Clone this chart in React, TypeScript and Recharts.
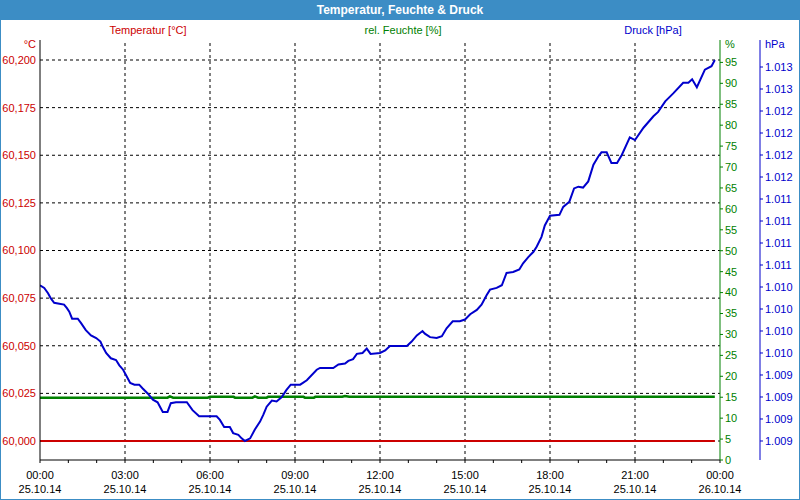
import { LineChart, Line, XAxis, YAxis, ReferenceLine } from "recharts";

// minutes since 25.10.14 00:00
const pressureMinutes = [
  0, 9, 17, 23, 30, 41, 51, 57, 62, 68,
  80, 87, 97, 108, 119, 128, 133, 140, 150, 161,
  168, 176, 182, 191, 200, 210, 217, 228, 239, 249,
  260, 270, 277, 288, 311, 323, 337, 374, 381, 390,
  402, 409, 420, 427, 434, 445, 455, 466, 473, 480,
  491, 501, 512, 522, 531, 551, 565, 586, 593, 621,
  632, 646, 653, 663, 671, 683, 692, 700, 720, 731,
  741, 777, 787, 798, 810, 815, 826, 840, 851, 861,
  874, 889, 900, 911, 925, 935, 946, 953, 967, 978,
  988, 1002, 1015, 1023, 1034, 1045, 1052, 1062, 1069, 1080,
  1100, 1108, 1121, 1131, 1140, 1150, 1161, 1172, 1182, 1189,
  1200, 1210, 1222, 1232, 1249, 1260, 1278, 1299, 1309, 1324,
  1341, 1362, 1373, 1381, 1391, 1408, 1422, 1429,
];
const pressureHpa = [
  1010.27, 1010.24, 1010.18, 1010.12, 1010.07, 1010.06, 1010.05, 1010.01, 1009.97, 1009.89,
  1009.89, 1009.84, 1009.76, 1009.7, 1009.67, 1009.63, 1009.57, 1009.5, 1009.44, 1009.42,
  1009.36, 1009.31, 1009.25, 1009.16, 1009.14, 1009.14, 1009.1, 1009.04, 1008.97, 1008.94,
  1008.83, 1008.83, 1008.93, 1008.94, 1008.94, 1008.85, 1008.78, 1008.78, 1008.74, 1008.66,
  1008.66, 1008.59, 1008.57, 1008.53, 1008.5, 1008.53, 1008.63, 1008.72, 1008.8, 1008.89,
  1008.96, 1008.95, 1009.0, 1009.08, 1009.14, 1009.14, 1009.19, 1009.31, 1009.33, 1009.33,
  1009.37, 1009.38, 1009.41, 1009.43, 1009.49, 1009.5, 1009.55, 1009.49, 1009.5, 1009.53,
  1009.58, 1009.58, 1009.63, 1009.7, 1009.75, 1009.72, 1009.68, 1009.67, 1009.69, 1009.78,
  1009.86, 1009.86, 1009.88, 1009.94, 1009.99, 1010.05, 1010.16, 1010.22, 1010.24, 1010.27,
  1010.41, 1010.42, 1010.45, 1010.52, 1010.59, 1010.65, 1010.71, 1010.82, 1010.95, 1011.06,
  1011.07, 1011.16, 1011.22, 1011.37, 1011.39, 1011.38, 1011.45, 1011.64, 1011.73, 1011.78,
  1011.78, 1011.66, 1011.66, 1011.75, 1011.95, 1011.92, 1012.06, 1012.19, 1012.24, 1012.36,
  1012.45, 1012.57, 1012.57, 1012.61, 1012.52, 1012.72, 1012.76, 1012.83,
];

const humidityMinutes = [0, 270, 275, 282, 355, 360, 410, 413, 450, 455, 462, 480, 483, 558, 561, 580, 583, 640, 646, 655, 1429];
const humidityPct = [14.9, 14.9, 15.2, 14.9, 14.9, 15.1, 15.1, 14.9, 14.9, 15.2, 14.9, 14.9, 15.1, 15.1, 14.9, 14.9, 15.1, 15.1, 15.3, 15.1, 15.1];

const temperatureMinutes = [0, 1429];
const temperatureC = [60.0, 60.0];

const hourTicks = [0, 60, 120, 180, 240, 300, 360, 420, 480, 540, 600, 660, 720, 780, 840, 900, 960, 1020, 1080, 1140, 1200, 1260, 1320, 1380, 1440];
const gridMinutes = [180, 360, 540, 720, 900, 1080, 1260];
const tempTicks = [60.0, 60.025, 60.05, 60.075, 60.1, 60.125, 60.15, 60.175, 60.2];
const humidityTicks = [0, 5, 10, 15, 20, 25, 30, 35, 40, 45, 50, 55, 60, 65, 70, 75, 80, 85, 90, 95];
const pressureTicks = [1008.5, 1008.75, 1009, 1009.25, 1009.5, 1009.75, 1010, 1010.25, 1010.5, 1010.75, 1011, 1011.25, 1011.5, 1011.75, 1012, 1012.25, 1012.5, 1012.75];
const dayLabels = ["25.10.14", "26.10.14"];

const pressureData = pressureMinutes.map((t, i) => ({ t, p: pressureHpa[i] }));
const humidityData = humidityMinutes.map((t, i) => ({ t, h: humidityPct[i] }));
const temperatureData = temperatureMinutes.map((t, i) => ({ t, c: temperatureC[i] }));

const RED = "#cc0000";
const GREEN = "#008000";
const BLUE = "#0000cc";
const FRAME = "#3c8dc5";
const FONT = "'Liberation Sans', Arial, sans-serif";

const TimeTick = ({ x, y, payload }: any) => {
  const m = payload.value;
  if (m % 180 !== 0) return <g />;
  const hh = String(Math.floor(m / 60) % 24).padStart(2, "0");
  const day = m >= 1440 ? dayLabels[1] : dayLabels[0];
  return (
    <g>
      <text x={x} y={y + 14} textAnchor="middle" fontSize={11} fill="#000" fontFamily={FONT}>
        {hh}:00
      </text>
      <text x={x} y={y + 28} textAnchor="middle" fontSize={11} fill="#000" fontFamily={FONT}>
        {day}
      </text>
    </g>
  );
};

const App = () => {
  return (
    <div style={{ position: "fixed", left: 0, top: 0, width: 800, height: 500, background: "#fff", fontFamily: FONT }}>
      <LineChart width={800} height={500} margin={{ top: 40, right: 0, left: 0, bottom: 0 }}>
        <XAxis
          dataKey="t"
          type="number"
          domain={[0, 1440]}
          ticks={hourTicks}
          allowDataOverflow
          height={40}
          tickSize={3}
          tickMargin={2}
          axisLine={{ stroke: "#000" }}
          tickLine={{ stroke: "#000" }}
          tick={<TimeTick />}
          interval={0}
        />
        <XAxis xAxisId="top" orientation="top" type="number" domain={[0, 1440]} height={0} tick={false} tickLine={false} axisLine={{ stroke: "#000" }} />
        <YAxis
          yAxisId="temp"
          orientation="left"
          width={40}
          type="number"
          domain={[59.99003, 60.2105]}
          ticks={tempTicks}
          allowDataOverflow
          interval={0}
          tickSize={0}
          tickMargin={4}
          tickLine={false}
          axisLine={{ stroke: "#000" }}
          tick={{ fontSize: 11, fill: RED, fontFamily: FONT }}
          tickFormatter={(v: number) => v.toFixed(3).replace(".", ",")}
        />
        <YAxis
          yAxisId="hum"
          orientation="right"
          width={40}
          type="number"
          domain={[0, 100.35]}
          ticks={humidityTicks}
          allowDataOverflow
          interval={0}
          tickSize={3}
          tickMargin={2}
          tickLine={{ stroke: GREEN }}
          axisLine={{ stroke: GREEN }}
          tick={{ fontSize: 11, fill: GREEN, fontFamily: FONT, textAnchor: "start" }}
        />
        <YAxis
          yAxisId="pres"
          orientation="right"
          width={40}
          type="number"
          domain={[1008.284, 1013.057]}
          ticks={pressureTicks}
          allowDataOverflow
          interval={0}
          tickSize={3}
          tickMargin={2}
          tickLine={{ stroke: BLUE }}
          axisLine={{ stroke: BLUE }}
          tick={{ fontSize: 11, fill: BLUE, fontFamily: FONT, textAnchor: "start" }}
          tickFormatter={(v: number) => (Math.round(v) / 1000).toFixed(3)}
        />
        {tempTicks.map((v) => (
          <ReferenceLine key={"h" + v} yAxisId="temp" y={v} stroke="#000" strokeDasharray="3 3" />
        ))}
        {gridMinutes.map((m) => (
          <ReferenceLine key={"v" + m} yAxisId="temp" x={m} stroke="#000" strokeDasharray="3 3" />
        ))}
        <Line yAxisId="temp" data={temperatureData} dataKey="c" type="linear" stroke={RED} strokeWidth={2} dot={false} isAnimationActive={false} />
        <Line yAxisId="hum" data={humidityData} dataKey="h" type="linear" stroke={GREEN} strokeWidth={2.5} dot={false} isAnimationActive={false} />
        <Line yAxisId="pres" data={pressureData} dataKey="p" type="linear" stroke={BLUE} strokeWidth={2} dot={false} isAnimationActive={false} />
      </LineChart>

      <div style={{ position: "absolute", left: 0, top: 0, width: 800, height: 20, background: FRAME, color: "#fff", fontWeight: "bold", fontSize: 12, lineHeight: "20px", textAlign: "center" }}>
        Temperatur, Feuchte &amp; Druck
      </div>
      <div style={{ position: "absolute", left: 148, top: 24, transform: "translateX(-50%)", fontSize: 11, color: RED, whiteSpace: "nowrap" }}>Temperatur [°C]</div>
      <div style={{ position: "absolute", left: 403, top: 24, transform: "translateX(-50%)", fontSize: 11, color: GREEN, whiteSpace: "nowrap" }}>rel. Feuchte [%]</div>
      <div style={{ position: "absolute", left: 653, top: 24, transform: "translateX(-50%)", fontSize: 11, color: BLUE, whiteSpace: "nowrap" }}>Druck [hPa]</div>
      <div style={{ position: "absolute", right: 764, top: 38, fontSize: 11, color: RED }}>°C</div>
      <div style={{ position: "absolute", left: 725, top: 38, fontSize: 11, color: GREEN }}>%</div>
      <div style={{ position: "absolute", left: 765, top: 38, fontSize: 11, color: BLUE }}>hPa</div>
      <div style={{ position: "absolute", left: 0, top: 0, width: 800, height: 500, boxSizing: "border-box", border: `1px solid ${FRAME}`, pointerEvents: "none" }} />
    </div>
  );
};

export default App;
